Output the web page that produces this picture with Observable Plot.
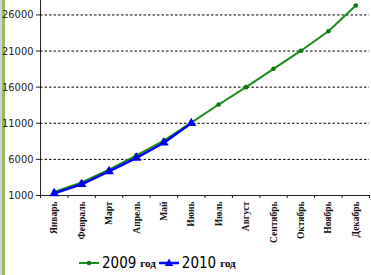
<!DOCTYPE html>
<html><head><meta charset="utf-8">
<script src="https://cdn.jsdelivr.net/npm/d3@7"></script>
<script src="https://cdn.jsdelivr.net/npm/@observablehq/plot@0.6"></script>
<style>
body{margin:0;background:#fff;width:371px;height:275px;overflow:hidden;position:relative;}
#edge1{position:absolute;left:0;top:0;width:2px;height:275px;background:#c9d3df;}
#edge2{position:absolute;left:2px;top:0;width:3px;height:275px;background:#9bbb59;}
#chart{position:absolute;left:0;top:0;}
#legend{position:absolute;left:79px;top:252px;height:22px;display:flex;align-items:center;gap:3px;}
.item{display:flex;align-items:center;}
.num{font-family:"Liberation Sans Narrow","DejaVu Sans Condensed",sans-serif;font-size:15px;color:#000;margin-left:3px;}
.god{font-family:"Liberation Serif",serif;font-weight:bold;font-size:11px;margin-left:4px;color:#000;}
</style></head>
<body>
<div id="edge1"></div><div id="edge2"></div>
<div id="chart"></div>
<div id="legend"></div>
<script>
const months = ["Январь","Февраль","Март","Апрель","Май","Июнь","Июль","Август","Сентябрь","Октябрь","Ноябрь","Декабрь"];
const v2009 = [1500, 2800, 4570, 6560, 8600, 11100, 13600, 16000, 18540, 21050, 23740, 27300];
const v2010 = [1300, 2550, 4330, 6200, 8300, 11000];
const yTicks = [1000, 6000, 11000, 16000, 21000, 26000];
const seriesNames = ["2009 год", "2010 год"];

const d09 = v2009.map((v, i) => ({i, v}));
const d10 = v2010.map((v, i) => ({i, v}));
const bounds = d3.range(months.length + 1).map(k => k - 0.5);

const green = "#1a8c1a", greenDot = "#0b780b", blue = "#0000ff";

const chart = Plot.plot({
  width: 371, height: 250,
  marginTop: 0, marginLeft: 40, marginRight: 2, marginBottom: 55,
  style: {fontFamily: "'Liberation Sans Narrow','DejaVu Sans Condensed',sans-serif", fontSize: "11px", color: "#222", background: "transparent"},
  x: {domain: [-0.5, 11.5], ticks: bounds, tickFormat: () => "", tickSize: 3, label: null, line: true},
  y: {domain: [1000, 28000], ticks: yTicks, tickSize: 4, tickPadding: 3, tickFormat: d => String(d), label: null, line: true},
  marks: [
    Plot.ruleY(yTicks.slice(1), {stroke: "#000", strokeDasharray: "2.5,2", strokeWidth: 1}),
    Plot.line(d09, {x: "i", y: "v", stroke: green, strokeWidth: 2}),
    Plot.dot(d09, {x: "i", y: "v", r: 2.3, fill: greenDot, stroke: "none"}),
    Plot.line(d10, {x: "i", y: "v", stroke: blue, strokeWidth: 2.5}),
    Plot.dot(d10, {x: "i", y: "v", symbol: "triangle", r: 3.6, fill: blue, stroke: "none"}),
    Plot.text(months, {x: (d, i) => i, y: () => 1000, text: d => d, rotate: -90, textAnchor: "end", lineAnchor: "middle", dy: 6,
      fontFamily: "'Liberation Serif',serif", fontWeight: "bold", fontSize: 9.5, fill: "#111"})
  ]
});
chart.querySelectorAll("[aria-label='x-axis'] path, [aria-label='y-axis'] path").forEach(p => p.setAttribute("stroke", "#555"));
document.getElementById("chart").appendChild(chart);

const leg = document.getElementById("legend");
const sw = [
  `<svg width="20" height="10"><line x1="0" y1="5" x2="20" y2="5" stroke="${green}" stroke-width="2"/><circle cx="10" cy="5" r="2.3" fill="${greenDot}"/></svg>`,
  `<svg width="20" height="10"><line x1="0" y1="5" x2="20" y2="5" stroke="${blue}" stroke-width="2.5"/><path d="M10,0.5L14.2,8L5.8,8Z" fill="${blue}"/></svg>`
];
seriesNames.forEach((n, k) => {
  const [num, god] = n.split(" ");
  const el = document.createElement("div");
  el.className = "item";
  el.innerHTML = sw[k] + `<span class="num">${num}</span><span class="god">${god}</span>`;
  leg.appendChild(el);
});
</script>
</body></html>
